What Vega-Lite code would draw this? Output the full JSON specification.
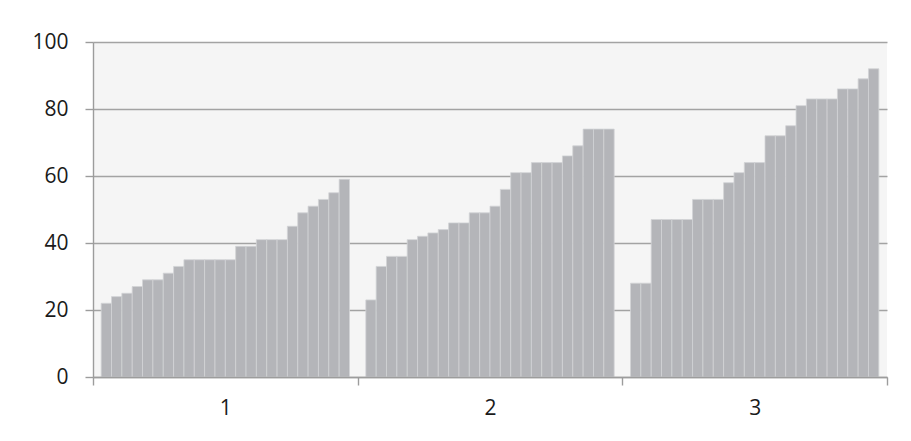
{
  "$schema": "https://vega.github.io/schema/vega-lite/v6.json",
  "width": 794,
  "height": 335,
  "autosize": {"type": "none"},
  "padding": {"left": 93, "top": 42, "right": 24, "bottom": 64},
  "background": "white",
  "config": {
    "view": {"fill": "#f5f5f5", "stroke": null},
    "axis": {
      "labelFont": "Open Sans",
      "labelFontSize": 21,
      "labelColor": "#1a1a1a",
      "domainColor": "#9c9c9c",
      "tickColor": "#9c9c9c",
      "gridColor": "#a3a3a3",
      "domainWidth": 1.4,
      "tickWidth": 1.4,
      "gridWidth": 1.4,
      "tickSize": 8
    }
  },
  "data": {
    "values": [
      {"group": "1", "s": 1, "v": 22}, {"group": "1", "s": 2, "v": 24}, {"group": "1", "s": 3, "v": 25}, {"group": "1", "s": 4, "v": 27},
      {"group": "1", "s": 5, "v": 29}, {"group": "1", "s": 6, "v": 29}, {"group": "1", "s": 7, "v": 31}, {"group": "1", "s": 8, "v": 33},
      {"group": "1", "s": 9, "v": 35}, {"group": "1", "s": 10, "v": 35}, {"group": "1", "s": 11, "v": 35}, {"group": "1", "s": 12, "v": 35},
      {"group": "1", "s": 13, "v": 35}, {"group": "1", "s": 14, "v": 39}, {"group": "1", "s": 15, "v": 39}, {"group": "1", "s": 16, "v": 41},
      {"group": "1", "s": 17, "v": 41}, {"group": "1", "s": 18, "v": 41}, {"group": "1", "s": 19, "v": 45}, {"group": "1", "s": 20, "v": 49},
      {"group": "1", "s": 21, "v": 51}, {"group": "1", "s": 22, "v": 53}, {"group": "1", "s": 23, "v": 55}, {"group": "1", "s": 24, "v": 59},
      {"group": "2", "s": 1, "v": 23}, {"group": "2", "s": 2, "v": 33}, {"group": "2", "s": 3, "v": 36}, {"group": "2", "s": 4, "v": 36},
      {"group": "2", "s": 5, "v": 41}, {"group": "2", "s": 6, "v": 42}, {"group": "2", "s": 7, "v": 43}, {"group": "2", "s": 8, "v": 44},
      {"group": "2", "s": 9, "v": 46}, {"group": "2", "s": 10, "v": 46}, {"group": "2", "s": 11, "v": 49}, {"group": "2", "s": 12, "v": 49},
      {"group": "2", "s": 13, "v": 51}, {"group": "2", "s": 14, "v": 56}, {"group": "2", "s": 15, "v": 61}, {"group": "2", "s": 16, "v": 61},
      {"group": "2", "s": 17, "v": 64}, {"group": "2", "s": 18, "v": 64}, {"group": "2", "s": 19, "v": 64}, {"group": "2", "s": 20, "v": 66},
      {"group": "2", "s": 21, "v": 69}, {"group": "2", "s": 22, "v": 74}, {"group": "2", "s": 23, "v": 74}, {"group": "2", "s": 24, "v": 74},
      {"group": "3", "s": 1, "v": 28}, {"group": "3", "s": 2, "v": 28}, {"group": "3", "s": 3, "v": 47}, {"group": "3", "s": 4, "v": 47},
      {"group": "3", "s": 5, "v": 47}, {"group": "3", "s": 6, "v": 47}, {"group": "3", "s": 7, "v": 53}, {"group": "3", "s": 8, "v": 53},
      {"group": "3", "s": 9, "v": 53}, {"group": "3", "s": 10, "v": 58}, {"group": "3", "s": 11, "v": 61}, {"group": "3", "s": 12, "v": 64},
      {"group": "3", "s": 13, "v": 64}, {"group": "3", "s": 14, "v": 72}, {"group": "3", "s": 15, "v": 72}, {"group": "3", "s": 16, "v": 75},
      {"group": "3", "s": 17, "v": 81}, {"group": "3", "s": 18, "v": 83}, {"group": "3", "s": 19, "v": 83}, {"group": "3", "s": 20, "v": 83},
      {"group": "3", "s": 21, "v": 86}, {"group": "3", "s": 22, "v": 86}, {"group": "3", "s": 23, "v": 89}, {"group": "3", "s": 24, "v": 92}
    ]
  },
  "mark": {"type": "bar", "fill": "#b4b5b9", "stroke": "#d2d3d6", "strokeWidth": 0.8},
  "encoding": {
    "x": {
      "field": "group",
      "type": "nominal",
      "scale": {"paddingInner": 0, "paddingOuter": 0},
      "axis": {"title": null, "labelAngle": 0, "tickBand": "extent", "grid": false, "labelPadding": 12, "zindex": 1}
    },
    "xOffset": {
      "field": "s",
      "type": "ordinal",
      "scale": {"paddingInner": 0, "paddingOuter": 0.79}
    },
    "y": {
      "field": "v",
      "type": "quantitative",
      "scale": {"domain": [0, 100], "nice": false},
      "axis": {"title": null, "values": [0, 20, 40, 60, 80, 100], "grid": true, "labelPadding": 17, "zindex": 0}
    }
  }
}
